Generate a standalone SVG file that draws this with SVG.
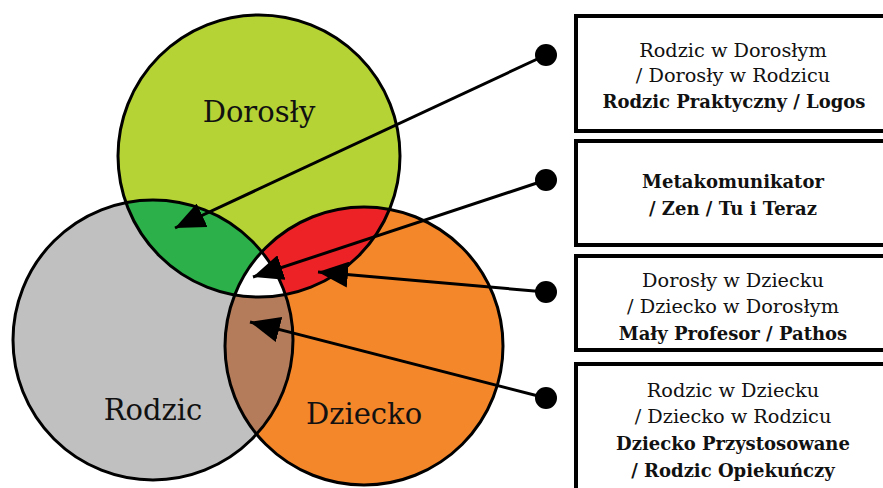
<svg xmlns="http://www.w3.org/2000/svg" width="883" height="488" viewBox="0 0 883 488">
<style>
.ring{fill:none;stroke:#000;stroke-width:3}
.bx{fill:#fff;stroke:#000;stroke-width:4}
.con{stroke:#000;stroke-width:3;fill:none}
.lbl{font-family:'DejaVu Serif',serif;font-size:29px;fill:#111;text-anchor:middle}
.t{font-family:'DejaVu Serif',serif;font-size:19.3px;fill:#111;text-anchor:middle}
.b{font-weight:bold;font-size:18px}
</style>
<defs>
<clipPath id="cD"><circle cx="259" cy="156" r="141"/></clipPath>
<clipPath id="cR"><circle cx="153" cy="340" r="140"/></clipPath>
<marker id="ah" markerUnits="userSpaceOnUse" markerWidth="32" markerHeight="26" refX="30" refY="13" orient="auto">
<path d="M0,0 L30,13 L0,26 Z" fill="#000"/>
</marker>
</defs>
<rect width="883" height="488" fill="#fff"/>
<g id="venn">
<circle cx="259" cy="156" r="141" fill="#b5d334"/>
<circle cx="153" cy="340" r="140" fill="#c0c0c0"/>
<circle cx="364" cy="346" r="139" fill="#f5872b"/>
<circle cx="153" cy="340" r="140" fill="#2bb04a" clip-path="url(#cD)"/>
<circle cx="364" cy="346" r="139" fill="#ec2227" clip-path="url(#cD)"/>
<circle cx="364" cy="346" r="139" fill="#b47c5a" clip-path="url(#cR)"/>
<g clip-path="url(#cD)"><circle cx="364" cy="346" r="139" fill="#fff" clip-path="url(#cR)"/></g>
<circle class="ring" cx="259" cy="156" r="141"/>
<circle class="ring" cx="153" cy="340" r="140"/>
<circle class="ring" cx="364" cy="346" r="139"/>
</g>
<g id="n-dorosly"><text class="lbl" x="259" y="122">Dorosły</text></g>
<g id="n-rodzic"><text class="lbl" x="153" y="420">Rodzic</text></g>
<g id="n-dziecko"><text class="lbl" x="364" y="424">Dziecko</text></g>
<g id="connectors">
<line class="con" x1="546" y1="55" x2="175" y2="228" marker-end="url(#ah)"/>
<line class="con" x1="546" y1="180" x2="253" y2="277" marker-end="url(#ah)"/>
<line class="con" x1="546" y1="292" x2="318" y2="272" marker-end="url(#ah)"/>
<line class="con" x1="546" y1="398" x2="250" y2="322" marker-end="url(#ah)"/>
<circle cx="546" cy="55" r="11" fill="#000"/>
<circle cx="546" cy="180" r="11" fill="#000"/>
<circle cx="546" cy="292" r="11" fill="#000"/>
<circle cx="546" cy="398" r="11" fill="#000"/>
</g>
<g id="box1">
<rect class="bx" x="576" y="16" width="320" height="115"/>
<text class="t" x="733" y="57">Rodzic w Dorosłym</text>
<text class="t" x="733" y="82">/ Dorosły w Rodzicu</text>
<text class="t b" x="734" y="108">Rodzic Praktyczny / Logos</text>
</g>
<g id="box2">
<rect class="bx" x="576" y="141" width="320" height="104"/>
<text class="t b" x="733" y="188">Metakomunikator</text>
<text class="t b" x="733" y="215">/ Zen / Tu i Teraz</text>
</g>
<g id="box3">
<rect class="bx" x="576" y="256" width="320" height="94"/>
<text class="t" x="733" y="287">Dorosły w Dziecku</text>
<text class="t" x="733" y="313">/ Dziecko w Dorosłym</text>
<text class="t b" x="733" y="340">Mały Profesor / Pathos</text>
</g>
<g id="box4">
<rect class="bx" x="576" y="364" width="320" height="140"/>
<text class="t" x="733" y="397">Rodzic w Dziecku</text>
<text class="t" x="733" y="423">/ Dziecko w Rodzicu</text>
<text class="t b" x="733" y="450">Dziecko Przystosowane</text>
<text class="t b" x="733" y="477">/ Rodzic Opiekuńczy</text>
</g>
</svg>
